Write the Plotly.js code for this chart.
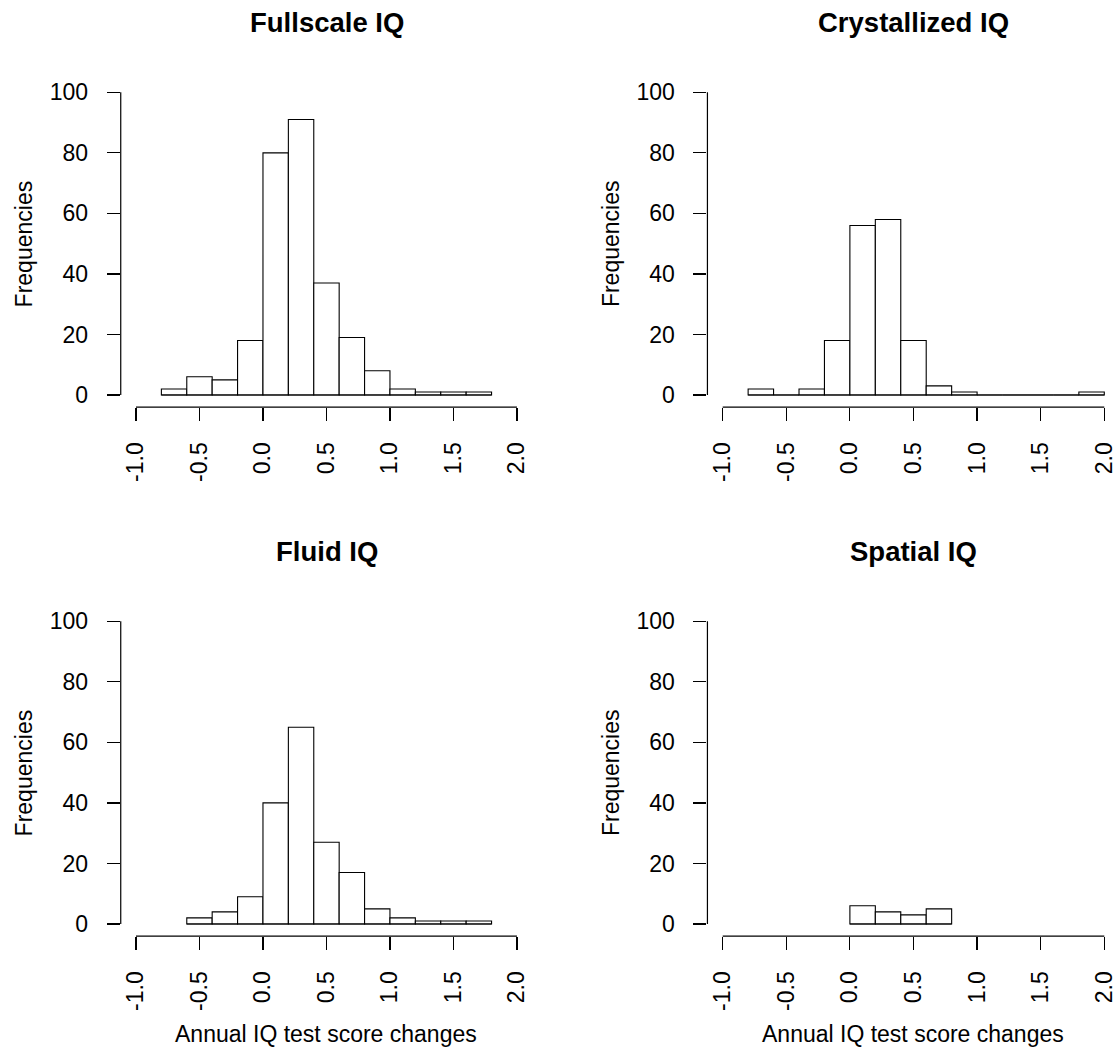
<!DOCTYPE html>
<html>
<head>
<meta charset="utf-8">
<script src="https://cdn.plot.ly/plotly-3.0.1.min.js"></script>
<style>
html,body{margin:0;padding:0;background:#fff;}
#chart{width:1119px;height:1050px;}
</style>
</head>
<body>
<div id="chart"></div>
<script>
// ---- data ----
const panelTitles = ["Fullscale IQ", "Crystallized IQ", "Fluid IQ", "Spatial IQ"];
const binWidth = 0.2;
const fullscaleBins   = [-0.8,-0.6,-0.4,-0.2,0.0,0.2,0.4,0.6,0.8,1.0,1.2,1.4,1.6];
const fullscaleCounts = [2,6,5,18,80,91,37,19,8,2,1,1,1];
const crystallizedBins   = [-0.8,-0.6,-0.4,-0.2,0.0,0.2,0.4,0.6,0.8,1.0,1.2,1.4,1.6,1.8];
const crystallizedCounts = [2,0,2,18,56,58,18,3,1,0,0,0,0,1];
const fluidBins   = [-0.6,-0.4,-0.2,0.0,0.2,0.4,0.6,0.8,1.0,1.2,1.4,1.6];
const fluidCounts = [2,4,9,40,65,27,17,5,2,1,1,1];
const spatialBins   = [0.0,0.2,0.4,0.6];
const spatialCounts = [6,4,3,5];
const xTickVals = [-1.0,-0.5,0.0,0.5,1.0,1.5,2.0];
const xTickText = ["-1.0","-0.5","0.0","0.5","1.0","1.5","2.0"];
const yTickVals = [0,20,40,60,80,100];
const yTickText = ["0","20","40","60","80","100"];
const yAxisLabel = "Frequencies";
const xAxisLabel = "Annual IQ test score changes";

// ---- layout constants ----
const W = 1119, H = 1050;
const FONT = "Liberation Sans, Arial, Helvetica, sans-serif";
const panels = [
  {bins: fullscaleBins, counts: fullscaleCounts, xd:[0.1079,0.4756], xr:[-1.12,2.12], yd:[0.6123,0.9236], xlabel:false},
  {bins: crystallizedBins, counts: crystallizedCounts, xd:[0.6322,1.0], xr:[-1.12,2.1156], yd:[0.6123,0.9236], xlabel:false},
  {bins: fluidBins, counts: fluidCounts, xd:[0.1079,0.4756], xr:[-1.12,2.12], yd:[0.1085,0.4198], xlabel:true},
  {bins: spatialBins, counts: spatialCounts, xd:[0.6322,1.0], xr:[-1.12,2.1156], yd:[0.1085,0.4198], xlabel:true}
];

const traces = [];
const shapes = [];
const annotations = [];
const layout = {
  width: W, height: H,
  margin: {l:0, r:0, t:0, b:0, pad:0},
  paper_bgcolor: "#fff", plot_bgcolor: "#fff",
  showlegend: false,
  font: {family: FONT, size: 23, color: "#000"},
  bargap: 0
};

panels.forEach((p, i) => {
  const n = i + 1;
  const xa = n === 1 ? "x" : "x" + n;
  const ya = n === 1 ? "y" : "y" + n;
  const centers = p.bins.map(b => b + binWidth / 2);
  // baseline for zero-height bins (as R's hist draws them)
  traces.push({
    type: "scatter", mode: "lines", xaxis: xa, yaxis: ya,
    x: [p.bins[0], p.bins[p.bins.length - 1] + binWidth], y: [0, 0],
    line: {color: "#000", width: 1}, hoverinfo: "skip"
  });
  traces.push({
    type: "bar", xaxis: xa, yaxis: ya,
    x: centers, y: p.counts, width: p.bins.map(() => binWidth),
    marker: {color: "#fff", line: {color: "#000", width: 1.1}}
  });
  const common = {showgrid:false, zeroline:false, showline:false, ticks:"outside",
    ticklen:13, tickwidth:1.2, tickcolor:"#000", tickfont:{family:FONT, size:23, color:"#000"}, fixedrange:true};
  layout["xaxis" + (n === 1 ? "" : n)] = Object.assign({}, common, {
    domain: p.xd, range: p.xr, anchor: ya, tickmode: "array",
    tickvals: xTickVals, ticktext: xTickText, tickangle: -90, ticklabelstandoff: 12
  });
  layout["yaxis" + (n === 1 ? "" : n)] = Object.assign({}, common, {
    domain: p.yd, range: [-4, 104], anchor: xa, tickmode: "array",
    tickvals: yTickVals, ticktext: yTickText, ticklabelstandoff: 14
  });
  // R-style axis lines spanning only the tick range
  shapes.push({type:"line", xref: xa, yref: ya + " domain",
    x0: xTickVals[0], x1: xTickVals[xTickVals.length - 1], y0: 0, y1: 0,
    line:{color:"#000", width:1.2}});
  shapes.push({type:"line", xref: xa + " domain", yref: ya,
    x0: 0, x1: 0, y0: yTickVals[0], y1: yTickVals[yTickVals.length - 1],
    line:{color:"#000", width:1.2}});
  // titles
  const leftPx = p.xd[0] * W;
  const tickMidX = (p.xd[0] * W + (xTickVals[0] - p.xr[0]) / (p.xr[1] - p.xr[0]) * (p.xd[1] - p.xd[0]) * W
     + p.xd[0] * W + (xTickVals[xTickVals.length-1] - p.xr[0]) / (p.xr[1] - p.xr[0]) * (p.xd[1] - p.xd[0]) * W) / 2;
  const titleCx = (p.xd[0] * W + Math.min(W, p.xd[0] * W + (p.xr[1]-p.xr[0]) / (p.xr[1]-p.xr[0]) * (p.xd[1]-p.xd[0]) * W)) / 2;
  const plotTopPx = (1 - p.yd[1]) * H;
  annotations.push({
    xref:"paper", yref:"paper", x: (i % 2 === 0 ? 326.5 : 913.5) / W, y: 1 - (plotTopPx - 58) / H,
    xanchor:"center", yanchor:"middle", showarrow:false,
    text: "<b>" + panelTitles[i] + "</b>", font:{family:FONT, size:27.5, color:"#000"}
  });
  annotations.push({
    xref:"paper", yref:"paper", x: (leftPx - 97) / W, y: (p.yd[0] + p.yd[1]) / 2 + 0.0 ,
    xanchor:"center", yanchor:"middle", showarrow:false, textangle:-90,
    text: yAxisLabel, font:{family:FONT, size:23, color:"#000"}
  });
  if (p.xlabel) {
    annotations.push({
      xref:"paper", yref:"paper", x: tickMidX / W, y: 1 - 1034 / H,
      xanchor:"center", yanchor:"middle", showarrow:false,
      text: xAxisLabel, font:{family:FONT, size:23, color:"#000"}
    });
  }
});
layout.shapes = shapes;
layout.annotations = annotations;

Plotly.newPlot("chart", traces, layout, {displayModeBar:false, staticPlot:true});
</script>
</body>
</html>
